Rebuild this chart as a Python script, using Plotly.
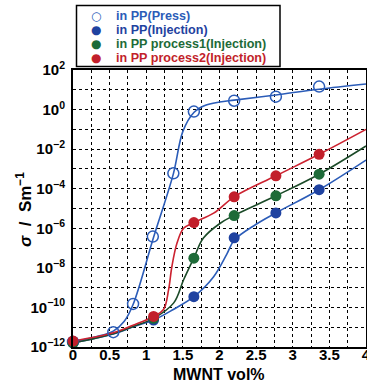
import plotly.graph_objects as go

# ---- data ----
x_press = [0, 0.55, 0.82, 1.09, 1.37, 1.65, 2.2, 2.77, 3.36]
y_press = [1.8e-12, 5.6e-12, 1.5e-10, 3.8e-7, 6.0e-4, 0.79, 2.8, 4.5, 14.5]

x_inj = [0, 1.1, 1.65, 2.2, 2.77, 3.36]
y_inj = [1.6e-12, 2.3e-11, 3.5e-10, 3.3e-7, 6.0e-6, 8.9e-5]
y_proc1 = [1.6e-12, 2.8e-11, 3.1e-8, 4.4e-6, 4.4e-5, 5.4e-4]
y_proc2 = [2.0e-12, 3.5e-11, 1.95e-6, 3.9e-5, 4.5e-4, 5.5e-3]

# fitted curves drawn on the chart
fit_press_x = [0, 0.3, 0.55, 0.7, 0.82, 1.1, 1.37, 1.5, 1.65, 1.8, 2.0, 2.2, 2.77, 3.36, 4.0]
fit_press_y = [1.8e-12, 3.2e-12, 6.3e-12, 2.0e-11, 1.4e-10, 3.5e-7, 5.6e-4, 0.079, 0.71, 1.6, 2.4, 3.0, 5.5, 10.7, 19.5]

fit_inj_x = [0, 0.55, 0.82, 1.1, 1.37, 1.65, 1.92, 2.1, 2.2, 2.5, 2.77, 3.36, 4.0]
fit_inj_y = [1.6e-12, 4.5e-12, 1.05e-11, 2.3e-11, 7.9e-11, 3.5e-10, 3.6e-9, 5.0e-8, 2.5e-7, 1.6e-6, 6.0e-6, 8.9e-5, 2.8e-3]

fit_p1_x = [0, 0.55, 0.82, 1.1, 1.375, 1.51, 1.65, 1.78, 2.01, 2.2, 2.77, 3.36, 4.0]
fit_p1_y = [1.6e-12, 4.7e-12, 1.1e-11, 2.8e-11, 1.7e-10, 2.5e-9, 3.2e-8, 3.2e-7, 1.8e-6, 4.5e-6, 4.4e-5, 5.4e-4, 1.45e-2]

fit_p2_x = [0, 0.55, 0.82, 1.1, 1.236, 1.305, 1.35, 1.42, 1.51, 1.65, 1.92, 2.2, 2.77, 3.36, 4.0]
fit_p2_y = [2.0e-12, 5.2e-12, 1.26e-11, 3.5e-11, 7.9e-11, 7.9e-10, 1.17e-8, 1.8e-7, 1.0e-6, 1.95e-6, 5.8e-6, 3.9e-5, 4.5e-4, 5.5e-3, 0.1]

x_tick_vals = [0, 0.5, 1, 1.5, 2, 2.5, 3, 3.5, 4]
x_tick_text = ["0", "0.5", "1", "1.5", "2", "2.5", "3", "3.5", "4"]
y_exponents = [-12, -11, -10, -9, -8, -7, -6, -5, -4, -3, -2, -1, 0, 1, 2]
y_tick_vals = [10.0 ** e for e in y_exponents]
y_tick_text = [("10<sup>" + str(e).replace("-", "\u2212") + "</sup>") if e % 2 == 0 else "" for e in y_exponents]

x_title = "MWNT vol%"
y_title = "<i>\u03c3</i>  /  Sm<sup>\u22121</sup>"
names = ["in PP(Press)", "in PP(Injection)", "in PP process1(Injection)", "in PP process2(Injection)"]
legend_symbols = ["\u25cb", "\u25cf", "\u25cf", "\u25cf"]

# ---- styles ----
BLUE_M = "#1f42a0"
BLUE_L = "#2b5cb8"
GREEN_M = "#1d6b38"
GREEN_L = "#1b4a28"
RED_M = "#c21f2b"
RED_L = "#cc2230"
FONT = "Liberation Sans"
marker_colors = [BLUE_L, BLUE_M, GREEN_M, RED_M]
text_colors = [BLUE_L, BLUE_M, GREEN_M, RED_M]

fig = go.Figure()

# fit lines
for fx, fy, col in [(fit_press_x, fit_press_y, BLUE_L), (fit_inj_x, fit_inj_y, BLUE_L),
                    (fit_p1_x, fit_p1_y, GREEN_L), (fit_p2_x, fit_p2_y, RED_L)]:
    fig.add_trace(go.Scatter(x=fx, y=fy, mode="lines", line=dict(color=col, width=1.6, shape="spline", smoothing=1.0),
                             showlegend=False, hoverinfo="skip"))

fig.add_trace(go.Scatter(x=x_press, y=y_press, mode="markers", name=names[0], showlegend=False,
                         marker=dict(symbol="circle-open", size=11, color=BLUE_L, line=dict(width=1.5, color=BLUE_L)),
                         cliponaxis=False))
fig.add_trace(go.Scatter(x=x_inj, y=y_inj, mode="markers", name=names[1], showlegend=False,
                         marker=dict(size=11, color=BLUE_M), cliponaxis=False))
fig.add_trace(go.Scatter(x=x_inj, y=y_proc1, mode="markers", name=names[2], showlegend=False,
                         marker=dict(size=11, color=GREEN_M), cliponaxis=False))
fig.add_trace(go.Scatter(x=x_inj, y=y_proc2, mode="markers", name=names[3], showlegend=False,
                         marker=dict(size=11, color=RED_M), cliponaxis=False))

# plot area in pixels: x 73..366, y 70..347
L, T, PW, PH = 73, 70, 293, 277
def px(xp):
    return (xp - L) / PW
def py(yp):
    return (T + PH - yp) / PH

# compact legend box
fig.add_shape(type="rect", xref="paper", yref="paper", x0=px(76.5), x1=px(280), y0=py(66.5), y1=py(5.5),
              line=dict(color="black", width=1.5), fillcolor="white", layer="above")
row_y = [16.5, 30.5, 44, 57.5]
for i, name in enumerate(names):
    fig.add_annotation(xref="paper", yref="paper", x=px(96), y=py(row_y[i]), xanchor="center", yanchor="middle",
                       text=legend_symbols[i], showarrow=False,
                       font=dict(family="DejaVu Sans", size=12, color=marker_colors[i]))
    fig.add_annotation(xref="paper", yref="paper", x=px(114), y=py(row_y[i]), xanchor="left", yanchor="middle",
                       text="<b>" + name + "</b>", showarrow=False,
                       font=dict(family=FONT, size=12.6, color=text_colors[i]))

# axis titles
fig.add_annotation(xref="paper", yref="paper", x=px(219), y=py(374), xanchor="center", yanchor="middle",
                   text="<b>" + x_title + "</b>", showarrow=False, font=dict(family=FONT, size=16, color="black"))
fig.add_annotation(xref="paper", yref="paper", x=px(24), y=py(210), xanchor="center", yanchor="middle",
                   text="<b>" + y_title + "</b>", showarrow=False, textangle=-90,
                   font=dict(family=FONT, size=17, color="black"))

fig.update_layout(
    width=367, height=385,
    margin=dict(l=L, r=367 - L - PW, t=T, b=385 - T - PH, autoexpand=False),
    paper_bgcolor="white", plot_bgcolor="white",
    font=dict(family=FONT, size=14, color="black"),
    showlegend=False,
    xaxis=dict(range=[0, 4], tickvals=x_tick_vals, ticktext=x_tick_text, automargin=False,
               showgrid=True, gridcolor="black", griddash="dot", gridwidth=1,
               minor=dict(dtick=0.25, showgrid=True, gridcolor="black", griddash="dot", gridwidth=1),
               showline=True, linecolor="black", linewidth=2, mirror=True, ticks="",
               zeroline=False, ticklabelstandoff=-7, ticklabeloverflow="allow",
               tickfont=dict(family=FONT, size=15, color="black", weight="bold")),
    yaxis=dict(type="log", range=[-12, 2], tickvals=y_tick_vals, ticktext=y_tick_text, automargin=False,
               showgrid=True, gridcolor="black", griddash="dot", gridwidth=1,
               showline=True, linecolor="black", linewidth=2, mirror=True, ticks="",
               zeroline=False, ticklabelstandoff=3,
               tickfont=dict(family=FONT, size=15, color="black", weight="bold")),
)

fig.write_html("out.html", config={"displayModeBar": False},
               post_script="document.body.style.margin='0px';document.body.style.overflow='hidden';")
